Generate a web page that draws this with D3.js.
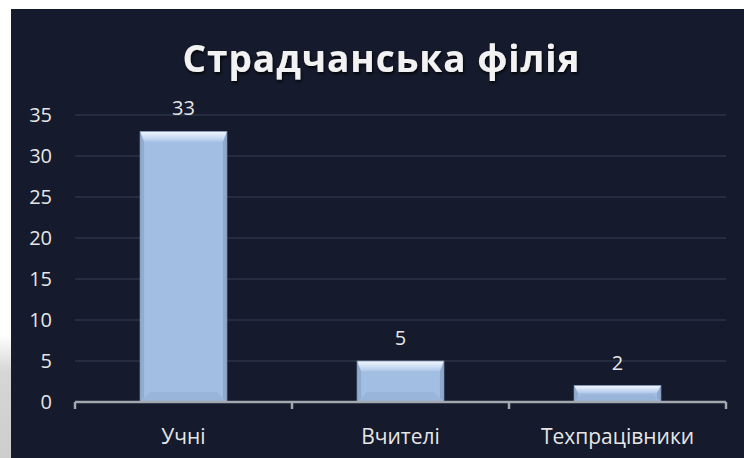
<!DOCTYPE html>
<html>
<head>
<meta charset="utf-8">
<script src="https://cdn.jsdelivr.net/npm/d3@7"></script>
<style>
  body { margin: 0; background: #fff; }
  text { font-family: "Open Sans", "Noto Sans", sans-serif; }
</style>
</head>
<body>
<div class="container"></div>
<script>
const title = "Страдчанська філія";
const categories = ["Учні", "Вчителі", "Техпрацівники"];
const values = [33, 5, 2];
const yTicks = [0, 5, 10, 15, 20, 25, 30, 35];

const W = 744, H = 458;
const svg = d3.select(".container").append("svg")
  .attr("width", W).attr("height", H);

const defs = svg.append("defs");
let shade = defs.append("linearGradient").attr("id", "shade")
  .attr("x1", 0).attr("y1", 0).attr("x2", 0).attr("y2", 1);
shade.append("stop").attr("offset", "0%").attr("stop-color", "#ffffff");
shade.append("stop").attr("offset", "30%").attr("stop-color", "#d6d6d6");
shade.append("stop").attr("offset", "100%").attr("stop-color", "#cdcdcd");

let topG = defs.append("linearGradient").attr("id", "bevelTop")
  .attr("x1", 0).attr("y1", 0).attr("x2", 0).attr("y2", 1);
topG.append("stop").attr("offset", "0%").attr("stop-color", "#f2f7fe");
topG.append("stop").attr("offset", "100%").attr("stop-color", "#b0c9ea");

let glow = defs.append("filter").attr("id", "glow")
  .attr("x", "-10%").attr("y", "-30%").attr("width", "120%").attr("height", "160%");
glow.append("feDropShadow").attr("dx", 1).attr("dy", 2)
  .attr("stdDeviation", 1.5).attr("flood-color", "#000").attr("flood-opacity", 0.8);

// page shadow on the left and dark chart area
svg.append("rect").attr("x", 0).attr("y", 335).attr("width", 12).attr("height", H - 335)
  .attr("fill", "url(#shade)");
svg.append("rect").attr("x", 11).attr("y", 9).attr("width", W - 11).attr("height", H - 9)
  .attr("fill", "#151a2c");

const x0 = 75, x1 = 726, yTop = 115, yBase = 402;

const x = d3.scaleBand().domain(categories).range([x0, x1]).padding(0);
const y = d3.scaleLinear().domain([0, 35]).range([yBase, yTop]);

// title
svg.append("text")
  .attr("x", 381).attr("y", 72)
  .attr("text-anchor", "middle")
  .attr("font-size", 37).attr("font-weight", "bold")
  .attr("fill", "#f2f2f2")
  .attr("textLength", 397).attr("lengthAdjust", "spacing")
  .attr("filter", "url(#glow)")
  .text(title);

// grid lines
svg.append("g").selectAll("line")
  .data(yTicks.filter(d => d > 0))
  .enter().append("line")
  .attr("x1", x0).attr("x2", x1)
  .attr("y1", d => y(d)).attr("y2", d => y(d))
  .attr("stroke", "#2d3346").attr("stroke-width", 1.3);

// y axis labels
svg.append("g").selectAll("text")
  .data(yTicks)
  .enter().append("text")
  .attr("x", 52).attr("y", d => y(d) + 7)
  .attr("text-anchor", "end")
  .attr("font-size", 20)
  .attr("fill", "#e6e6e6")
  .text(d => d);

// bars with a bevel
const bw = x.bandwidth() * 0.4;
const bars = svg.append("g").selectAll("g")
  .data(categories.map((c, i) => ({ c: c, v: values[i] })))
  .enter().append("g");

bars.each(function (d) {
  let g = d3.select(this);
  let l = x(d.c) + (x.bandwidth() - bw) / 2, r = l + bw;
  let t = y(d.v), b = yBase;
  let e = Math.min(10, (b - t) / 2.2);
  let s = Math.min(4, e);
  g.append("rect").attr("x", l).attr("y", t).attr("width", bw).attr("height", b - t)
    .attr("fill", "#a2bfe3");
  g.append("polygon").attr("points", [[l, t], [l + s, t + e], [l + s, b - s], [l, b]].join(" "))
    .attr("fill", "#91acd1");
  g.append("polygon").attr("points", [[r, t], [r - s, t + e], [r - s, b - s], [r, b]].join(" "))
    .attr("fill", "#8fa9cd");
  g.append("polygon").attr("points", [[l, b], [l + s, b - s], [l + e, b - e], [r - e, b - e], [r - s, b - s], [r, b]].join(" "))
    .attr("fill", "#99b5da");
  g.append("polygon").attr("points", [[l, t], [r, t], [r - s, t + e], [l + s, t + e]].join(" "))
    .attr("fill", "url(#bevelTop)");
  g.append("rect").attr("x", l).attr("y", t).attr("width", bw).attr("height", b - t)
    .attr("fill", "none").attr("stroke", "#7f95b4").attr("stroke-width", 0.8);
});

// value labels
svg.append("g").selectAll("text")
  .data(values)
  .enter().append("text")
  .attr("x", (d, i) => x(categories[i]) + x.bandwidth() / 2)
  .attr("y", d => y(d) - 16)
  .attr("text-anchor", "middle")
  .attr("font-size", 20)
  .attr("fill", "#e6e6e6")
  .text(d => d);

// x axis
const xAxis = svg.append("g").attr("transform", `translate(0,${yBase})`);
xAxis.append("line").attr("x1", x0).attr("x2", x1).attr("y1", 0).attr("y2", 0)
  .attr("stroke", "#a3a7ae").attr("stroke-width", 2.5);
xAxis.selectAll(".tick")
  .data(categories.map(c => x(c)).concat([x1]))
  .enter().append("line").attr("class", "tick")
  .attr("x1", d => d).attr("x2", d => d).attr("y1", 0).attr("y2", 7)
  .attr("stroke", "#a3a7ae").attr("stroke-width", 2.5);
xAxis.selectAll("text")
  .data(categories)
  .enter().append("text")
  .attr("x", d => x(d) + x.bandwidth() / 2)
  .attr("y", 42)
  .attr("text-anchor", "middle")
  .attr("font-size", 21)
  .attr("fill", "#e6e6e6")
  .text(d => d);
</script>
</body>
</html>
